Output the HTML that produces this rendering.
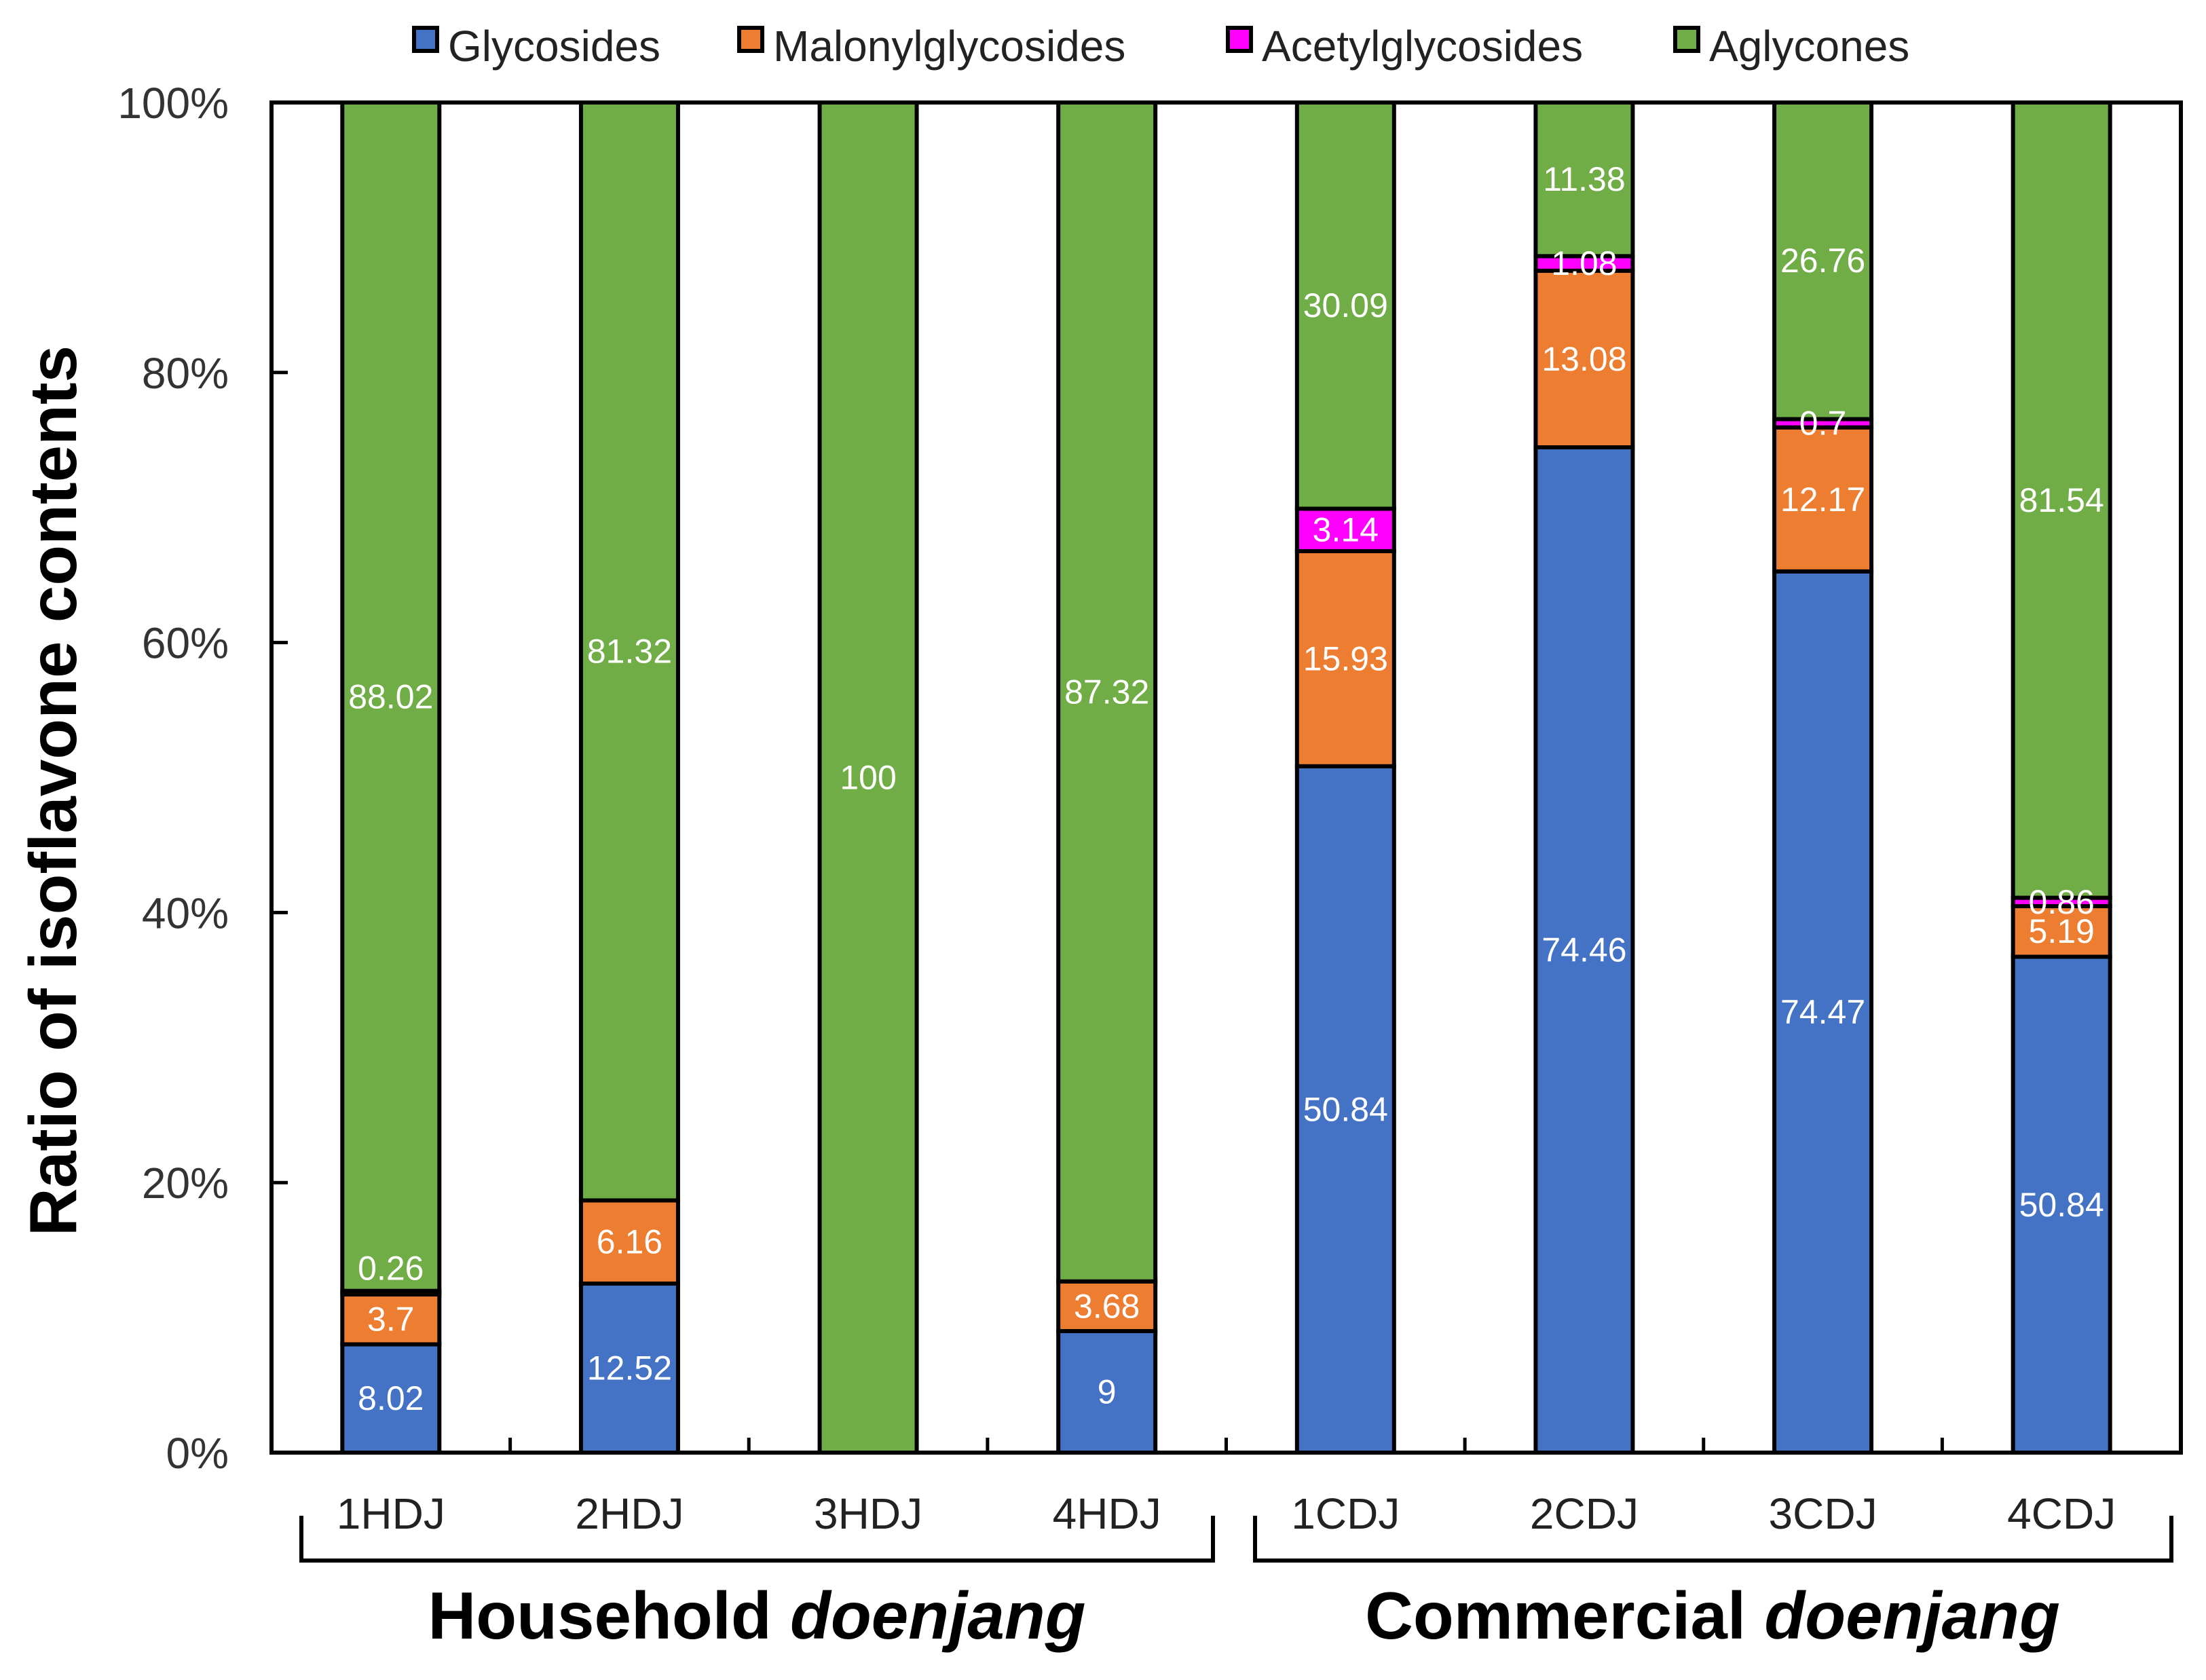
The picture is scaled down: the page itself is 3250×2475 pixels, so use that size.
<!DOCTYPE html>
<html><head><meta charset="utf-8"><style>
body{margin:0;background:#fff}
svg{display:block}
text{font-family:"Liberation Sans",sans-serif}
</style></head><body>
<svg id="chart" width="3250" height="2475" viewBox="0 0 3250 2475" xmlns="http://www.w3.org/2000/svg">
<text transform="translate(112,1165) rotate(-90)" text-anchor="middle" font-size="98" font-weight="bold">Ratio of isoflavone contents</text>
<g fill="none" stroke="#000" stroke-width="6">
<path d="M444,2233 V2299 H1787 V2233"/>
<path d="M1849,2233 V2299 H3199 V2233"/>
</g>
<text x="1115" y="2414" text-anchor="middle" font-size="98" font-weight="bold">Household <tspan font-style="italic">doenjang</tspan></text>
<text x="2523" y="2414" text-anchor="middle" font-size="98" font-weight="bold">Commercial <tspan font-style="italic">doenjang</tspan></text>
</svg>
<script>
const categories=["1HDJ","2HDJ","3HDJ","4HDJ","1CDJ","2CDJ","3CDJ","4CDJ"];
const seriesNames=["Glycosides","Malonylglycosides","Acetylglycosides","Aglycones"];
const glycosides=[8.02,12.52,0,9,50.84,74.46,74.47,50.84];
const malonyl=[3.7,6.16,0,3.68,15.93,13.08,12.17,5.19];
const acetyl=[0.26,0,0,0,3.14,1.08,0.7,0.86];
const aglycones=[88.02,81.32,100,87.32,30.09,11.38,26.76,81.54];
const yTicks=[0,20,40,60,80,100];
const colors=["#4472C4","#ED7D31","#FF00FF","#70AD47"];
const series=[glycosides,malonyl,acetyl,aglycones];
const NS="http://www.w3.org/2000/svg";
const svg=document.getElementById('chart');
const L=400,R=3213,T=151,B=2140;
const band=(R-L)/categories.length, bw=143;
const y=v=>B-(B-T)*v/100;
const xc=i=>L+band*(i+0.5);
function el(t,a,p){const e=document.createElementNS(NS,t);for(const k in a)e.setAttribute(k,a[k]);(p||svg).appendChild(e);return e;}
const bars=el('g',{});


categories.forEach((c,i)=>{
  const tot=series.reduce((s,a)=>s+a[i],0);
  let cum=0;
  series.forEach((arr,si)=>{
    const v=arr[i];
    if(v<=0)return;
    const p0=cum/tot*100, p1=(cum+v)/tot*100; cum+=v;
    const r=el('rect',{x:xc(i)-bw/2,y:y(p1),width:bw,height:y(p0)-y(p1),fill:colors[si],stroke:'#000','stroke-width':6},bars);
    
    
  });
  cum=0;
  series.forEach((arr,si)=>{
    const v=arr[i];
    if(v<=0)return;
    const p0=cum/tot*100, p1=(cum+v)/tot*100; cum+=v;
    const off=(p1-p0)<0.5?-36:0;
    const t=el('text',{x:xc(i),y:(y(p0)+y(p1))/2+17+off,'text-anchor':'middle','font-size':50,fill:'#fff'},bars);
    t.textContent=String(v);
    
    
  });
});
const ax=el('rect',{x:L,y:T,width:R-L,height:B-T,fill:'none',stroke:'#000','stroke-width':6});


yTicks.forEach(v=>{
  const tk=el('line',{x1:L,x2:L+24,y1:y(v),y2:y(v),stroke:'#000','stroke-width':5});
  
  
  const t=el('text',{x:337,y:y(v)+23,'text-anchor':'end','font-size':64,fill:'#333'});
  t.textContent=v+'%';
  
  
});
categories.forEach((c,i)=>{
  if(i>0){
    const tk=el('line',{x1:L+band*i,x2:L+band*i,y1:B,y2:B-22,stroke:'#000','stroke-width':5});
    
    
  }
  const t=el('text',{x:xc(i),y:2252,'text-anchor':'middle','font-size':64,fill:'#222'});
  t.textContent=c;
  
  
});
const legX=[607,1086,1806,2465];
const lg=el('g',{});


seriesNames.forEach((n,si)=>{
  const g=el('g',{},lg);
  
  
  el('rect',{x:legX[si]+3,y:41,width:34,height:34,fill:colors[si],stroke:'#000','stroke-width':6},g);
  const t=el('text',{x:legX[si]+53,y:90,'font-size':64,fill:'#222'},g);
  t.textContent=n;
});
</script>
</body></html>
